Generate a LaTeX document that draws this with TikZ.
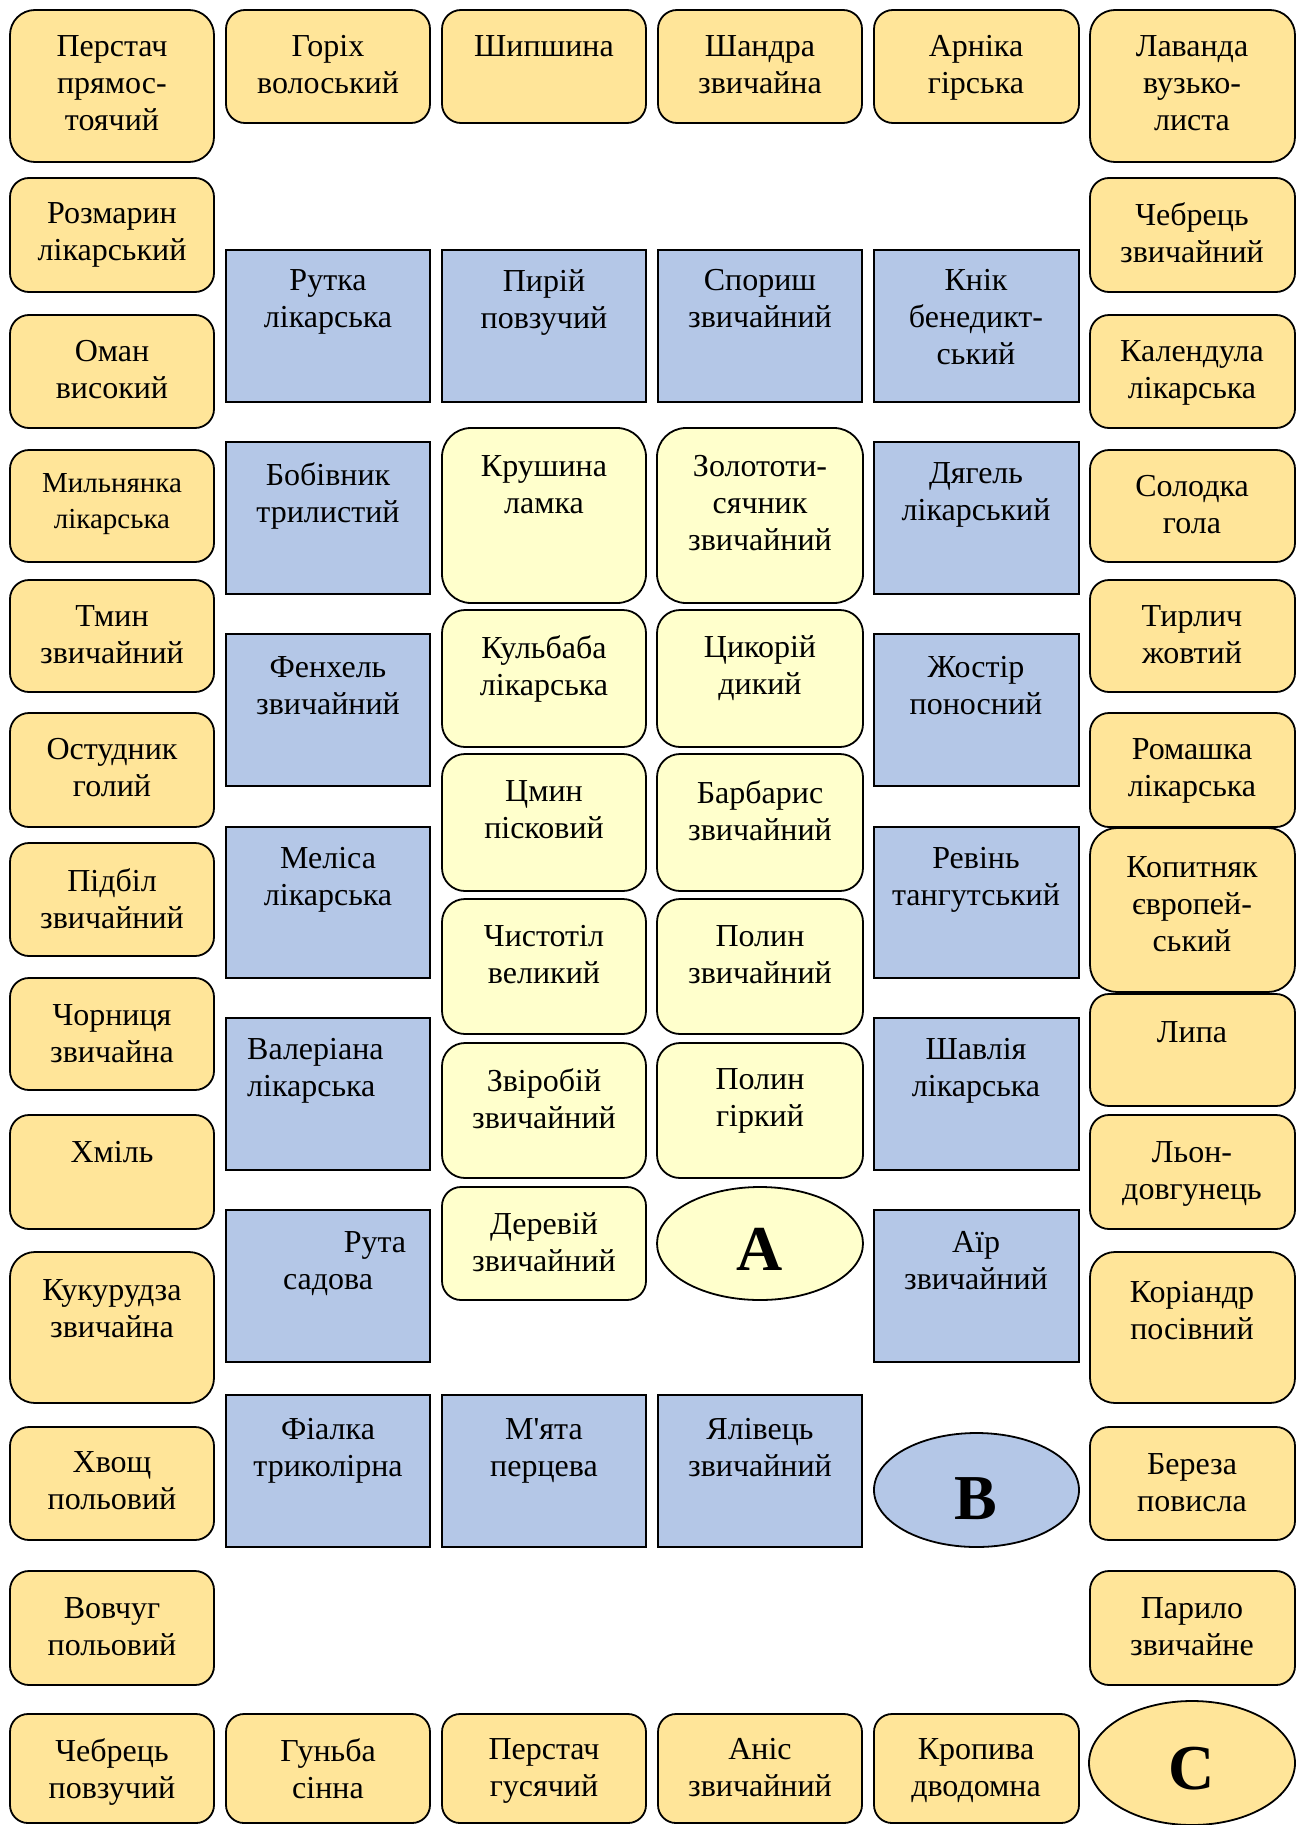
\documentclass[tikz,border=0pt]{standalone}
\usepackage{fontspec}
\setmainfont{Liberation Serif}[Ligatures=TeXOff]
\usepackage{xcolor}

\definecolor{goldc}{HTML}{FFE599}
\definecolor{bluec}{HTML}{B4C7E7}
\definecolor{palec}{HTML}{FFFFCC}

\tikzset{
  gold/.style={draw=black, line width=1.8pt, fill=goldc, rounded corners=#1},
  gold/.default=19,
  pale/.style={draw=black, line width=1.8pt, fill=palec, rounded corners=#1},
  pale/.default=23,
  blue/.style={draw=black, line width=1.8pt, fill=bluec},
  lbl/.style={anchor=north, align=center, inner sep=0pt, font=\fontsize{32}{37}\selectfont},
  big/.style={anchor=north, inner sep=0pt, font=\fontsize{64}{70}\selectfont\bfseries}
}

\begin{document}
\begin{tikzpicture}[x=1pt,y=-1pt]
  \useasboundingbox (0,0) rectangle (1296,1825);
  \clip (0,0) rectangle (1296,1825);
  % top row
  \draw[gold=25] (10,10) rectangle (214,162);
  \node[lbl] (perstach) at (112,35) {Перстач\\прямос-\\тоячий};
  \draw[gold] (226,10) rectangle (430,123);
  \node[lbl] (horikh) at (328,35) {Горіх\\волоський};
  \draw[gold] (442,10) rectangle (646,123);
  \node[lbl] (shypshyna) at (544,35) {Шипшина};
  \draw[gold] (658,10) rectangle (862,123);
  \node[lbl] (shandra) at (760,35) {Шандра\\звичайна};
  \draw[gold] (874,10) rectangle (1079,123);
  \node[lbl] (arnika) at (976,35) {Арніка\\гірська};
  \draw[gold=25] (1090,10) rectangle (1295,162);
  \node[lbl] (lavanda) at (1192,35) {Лаванда\\вузько-\\листа};
  % left column
  \draw[gold] (10,178) rectangle (214,292);
  \node[lbl] (rozmaryn) at (112,202) {Розмарин\\лікарський};
  \draw[gold] (10,315) rectangle (214,428);
  \node[lbl] (oman) at (112,340) {Оман\\високий};
  \draw[gold] (10,450) rectangle (214,562);
  \node[lbl, font=\fontsize{29}{36}\selectfont] (mylnianka) at (112,473) {Мильнянка\\лікарська};
  \draw[gold] (10,580) rectangle (214,692);
  \node[lbl] (tmyn) at (112,605) {Тмин\\звичайний};
  \draw[gold] (10,713) rectangle (214,827);
  \node[lbl] (ostudnyk) at (112,738) {Остудник\\голий};
  \draw[gold] (10,843) rectangle (214,956);
  \node[lbl] (pidbil) at (112,868) {Підбіл\\звичайний};
  \draw[gold] (10,978) rectangle (214,1090);
  \node[lbl] (chornytsia) at (112,1004) {Чорниця\\звичайна};
  \draw[gold] (10,1115) rectangle (214,1229);
  \node[lbl] (khmil) at (112,1141) {Хміль};
  \draw[gold=25] (10,1252) rectangle (214,1403);
  \node[lbl] (kukurudza) at (112,1279) {Кукурудза\\звичайна};
  \draw[gold] (10,1427) rectangle (214,1540);
  \node[lbl] (khvoshch) at (112,1451) {Хвощ\\польовий};
  \draw[gold] (10,1571) rectangle (214,1685);
  \node[lbl] (vovchuh) at (112,1597) {Вовчуг\\польовий};
  % right column
  \draw[gold] (1090,178) rectangle (1295,292);
  \node[lbl] (chebrets) at (1192,202) {Чебрець\\звичайний};
  \draw[gold] (1090,315) rectangle (1295,428);
  \node[lbl] (kalendula) at (1192,340) {Календула\\лікарська};
  \draw[gold] (1090,450) rectangle (1295,562);
  \node[lbl] (solodka) at (1192,475) {Солодка\\гола};
  \draw[gold] (1090,580) rectangle (1295,692);
  \node[lbl] (tyrlych) at (1192,605) {Тирлич\\жовтий};
  \draw[gold] (1090,713) rectangle (1295,827);
  \node[lbl] (romashka) at (1192,738) {Ромашка\\лікарська};
  \draw[gold=27] (1090,828) rectangle (1295,992);
  \node[lbl] (kopytniak) at (1192,856) {Копитняк\\європей-\\ський};
  \draw[gold] (1090,994) rectangle (1295,1106);
  \node[lbl] (lypa) at (1192,1021) {Липа};
  \draw[gold] (1090,1115) rectangle (1295,1229);
  \node[lbl] (lon) at (1192,1141) {Льон-\\довгунець};
  \draw[gold=25] (1090,1252) rectangle (1295,1403);
  \node[lbl] (koriandr) at (1192,1281) {Коріандр\\посівний};
  \draw[gold] (1090,1427) rectangle (1295,1540);
  \node[lbl] (bereza) at (1192,1453) {Береза\\повисла};
  \draw[gold] (1090,1571) rectangle (1295,1685);
  \node[lbl] (parylo) at (1192,1597) {Парило\\звичайне};
  \draw[line width=1.8pt, fill=goldc] (1192,1763) ellipse (103 and 62);
  \node[big] (c) at (1192,1747) {C};
  % bottom row
  \draw[gold=18] (10,1714) rectangle (214,1823);
  \node[lbl] (chebretspovz) at (112,1738) {Чебрець\\повзучий};
  \draw[gold=18] (226,1714) rectangle (430,1823);
  \node[lbl] (hunba) at (328,1738) {Гуньба\\сінна};
  \draw[gold=18] (442,1714) rectangle (646,1823);
  \node[lbl] (perstachhus) at (544,1738) {Перстач\\гусячий};
  \draw[gold=18] (658,1714) rectangle (862,1823);
  \node[lbl] (anis) at (760,1738) {Аніс\\звичайний};
  \draw[gold=18] (874,1714) rectangle (1079,1823);
  \node[lbl] (kropyva) at (976,1738) {Кропива\\дводомна};
  % blue ring
  \draw[blue] (226,250) rectangle (430,402);
  \node[lbl] (rutka) at (328,269) {Рутка\\лікарська};
  \draw[blue] (442,250) rectangle (646,402);
  \node[lbl] (pyrii) at (544,269) {Пирій\\повзучий};
  \draw[blue] (658,250) rectangle (862,402);
  \node[lbl] (sporysh) at (760,269) {Спориш\\звичайний};
  \draw[blue] (874,250) rectangle (1079,402);
  \node[lbl] (knik) at (976,269) {Кнік\\бенедикт-\\ський};
  \draw[blue] (226,442) rectangle (430,594);
  \node[lbl] (bobivnyk) at (328,462) {Бобівник\\трилистий};
  \draw[blue] (226,634) rectangle (430,786);
  \node[lbl] (fenkhel) at (328,656) {Фенхель\\звичайний};
  \draw[blue] (226,827) rectangle (430,978);
  \node[lbl] (melisa) at (328,847) {Меліса\\лікарська};
  \draw[blue] (226,1018) rectangle (430,1170);
  \node[lbl, anchor=north west, align=left] (valeriana) at (247,1038) {Валеріана\\лікарська};
  \draw[blue] (226,1210) rectangle (430,1362);
  \node[lbl] (ruta) at (328,1231) {\hspace*{94pt}Рута\\садова};
  \draw[blue] (226,1395) rectangle (430,1547);
  \node[lbl] (fialka) at (328,1418) {Фіалка\\триколірна};
  \draw[blue] (442,1395) rectangle (646,1547);
  \node[lbl] (miata) at (544,1418) {М'ята\\перцева};
  \draw[blue] (658,1395) rectangle (862,1547);
  \node[lbl] (yalivets) at (760,1418) {Ялівець\\звичайний};
  \draw[blue] (874,442) rectangle (1079,594);
  \node[lbl] (diahel) at (976,462) {Дягель\\лікарський};
  \draw[blue] (874,634) rectangle (1079,786);
  \node[lbl] (zhostir) at (976,656) {Жостір\\поносний};
  \draw[blue] (874,827) rectangle (1079,978);
  \node[lbl] (revin) at (976,847) {Ревінь\\тангутський};
  \draw[blue] (874,1018) rectangle (1079,1170);
  \node[lbl] (shavliia) at (976,1038) {Шавлія\\лікарська};
  \draw[blue] (874,1210) rectangle (1079,1362);
  \node[lbl] (air) at (976,1231) {Аїр\\звичайний};
  \draw[line width=1.8pt, fill=bluec] (976.5,1490) ellipse (102.5 and 57);
  \node[big] (b) at (976,1477) {B};
  % centre
  \draw[pale=29] (442,428) rectangle (646,603);
  \node[lbl] (krushyna) at (544,455) {Крушина\\ламка};
  \draw[pale=29] (657,428) rectangle (863,603);
  \node[lbl] (zolototy) at (760,455) {Золототи-\\сячник\\звичайний};
  \draw[pale] (442,610) rectangle (646,747);
  \node[lbl] (kulbaba) at (544,635) {Кульбаба\\лікарська};
  \draw[pale] (657,610) rectangle (863,747);
  \node[lbl] (tsykorii) at (760,635) {Цикорій\\дикий};
  \draw[pale] (442,754) rectangle (646,891);
  \node[lbl] (tsmyn) at (544,780) {Цмин\\пісковий};
  \draw[pale] (657,754) rectangle (863,891);
  \node[lbl] (barbarys) at (760,780) {Барбарис\\звичайний};
  \draw[pale] (442,899) rectangle (646,1034);
  \node[lbl] (chystotil) at (544,925) {Чистотіл\\великий};
  \draw[pale] (657,899) rectangle (863,1034);
  \node[lbl] (polyn) at (760,925) {Полин\\звичайний};
  \draw[pale] (442,1043) rectangle (646,1178);
  \node[lbl] (zvirobii) at (544,1068) {Звіробій\\звичайний};
  \draw[pale] (657,1043) rectangle (863,1178);
  \node[lbl] (polynhirk) at (760,1068) {Полин\\гіркий};
  \draw[pale=19] (442,1187) rectangle (646,1300);
  \node[lbl] (dereviy) at (544,1212) {Деревій\\звичайний};
  \draw[line width=1.8pt, fill=palec] (760,1243.5) ellipse (103 and 56.5);
  \node[big] (a) at (760,1228) {A};
\end{tikzpicture}
\end{document}
